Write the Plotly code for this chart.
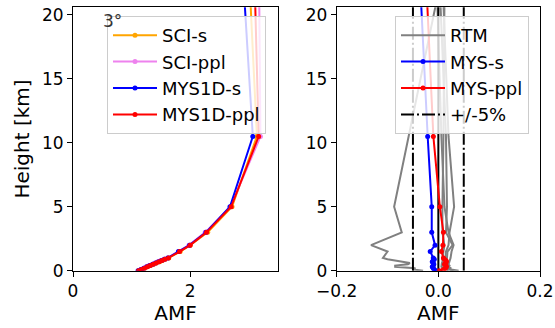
import plotly.graph_objects as go

# ---------------- data ----------------
heights = [0.0, 0.1, 0.2, 0.3, 0.4, 0.5, 0.6, 0.7, 0.8, 0.9, 1.0, 1.5, 2.0, 3.0, 5.0, 10.5, 21.0]

sci_s = [1.115, 1.17, 1.22, 1.275, 1.32, 1.37, 1.42, 1.48, 1.525, 1.57, 1.635, 1.83, 2.00, 2.30, 2.715, 3.14, 3.03]
sci_ppl = [1.118, 1.158, 1.203, 1.25, 1.30, 1.354, 1.40, 1.447, 1.498, 1.55, 1.614, 1.81, 1.98, 2.257, 2.69, 3.20, 3.18]
mys1d_s = [1.11, 1.16, 1.21, 1.26, 1.31, 1.36, 1.41, 1.46, 1.51, 1.56, 1.62, 1.80, 1.99, 2.27, 2.68, 3.07, 2.93]
mys1d_ppl = [1.12, 1.17, 1.22, 1.27, 1.32, 1.37, 1.42, 1.47, 1.52, 1.57, 1.63, 1.82, 2.00, 2.28, 2.70, 3.17, 3.11]

rtm_1 = [-0.03, -0.05, -0.045, -0.085, -0.085, -0.06, -0.056, -0.07, -0.09, -0.10, -0.109, -0.10, -0.1325, -0.072, -0.087, -0.058, -0.004]
rtm_2 = [0.02, 0.015, 0.012, 0.01, 0.01, 0.012, 0.012, 0.012, 0.013, 0.013, 0.014, 0.015, 0.02, 0.022, 0.031, 0.02, 0.010]
rtm_3 = [0.04, 0.025, 0.02, 0.018, 0.016, 0.015, 0.015, 0.016, 0.016, 0.016, 0.017, 0.018, 0.028, 0.015, 0.017, 0.015, 0.004]
rtm_4 = [0.005, 0.008, 0.01, 0.006, 0.006, 0.007, 0.007, 0.008, 0.008, 0.008, 0.008, 0.01, 0.012, 0.008, 0.008, 0.01, 0.012]
rtm_5 = [0.03, 0.02, 0.025, 0.02, 0.022, 0.02, 0.021, 0.022, 0.022, 0.023, 0.024, 0.026, 0.03, 0.02, 0.012, 0.006, -0.002]
rtm_all = [rtm_1, rtm_2, rtm_3, rtm_4, rtm_5]

mys_s = [-0.005, -0.008, -0.01, -0.012, -0.01, -0.009, -0.01, -0.012, -0.01, -0.008, -0.01, -0.016, -0.0065, -0.013, -0.013, -0.021, -0.034]
mys_ppl = [0.002, 0.01, 0.014, 0.016, 0.015, 0.012, 0.014, 0.016, 0.015, 0.012, 0.01, 0.006, 0.009, 0.01, 0.003, -0.0098, -0.022]

pct_limits = [-0.05, 0.05]
zero_ref = [0.0]
y_span = [0.0, 21.0]

left_xticks = [0, 2]
right_xticks = [-0.2, 0.0, 0.2]
yticks = [0, 5, 10, 15, 20]

# ---------------- figure ----------------
FONT = "DejaVu Sans"
FS = 17
LFS = 18
fig = go.Figure()

def add_left(x, name, color, gid):
    fig.add_trace(go.Scatter(
        x=x, y=heights, name=name, mode="lines+markers",
        line=dict(color=color, width=2), marker=dict(color=color, size=5),
        xaxis="x", yaxis="y", legend="legend", legendgroup=gid,
    ))

add_left(sci_s, "SCI-s", "#FFA500", "a")
add_left(sci_ppl, "SCI-ppl", "#EE82EE", "b")
add_left(mys1d_s, "MYS1D-s", "#0000FF", "c")
add_left(mys1d_ppl, "MYS1D-ppl", "#FF0000", "d")

for i, r in enumerate(rtm_all):
    fig.add_trace(go.Scatter(
        x=r, y=heights, name="RTM", mode="lines",
        line=dict(color="#808080", width=2),
        xaxis="x2", yaxis="y2", legend="legend2", legendgroup="e",
        showlegend=(i == 0),
    ))

fig.add_trace(go.Scatter(
    x=[zero_ref[0], zero_ref[0]], y=y_span, mode="lines",
    line=dict(color="black", width=2), xaxis="x2", yaxis="y2",
    showlegend=False, hoverinfo="skip",
))

fig.add_trace(go.Scatter(
    x=mys_s, y=heights, name="MYS-s", mode="lines+markers",
    line=dict(color="#0000FF", width=2), marker=dict(color="#0000FF", size=5),
    xaxis="x2", yaxis="y2", legend="legend2", legendgroup="f",
))
fig.add_trace(go.Scatter(
    x=mys_ppl, y=heights, name="MYS-ppl", mode="lines+markers",
    line=dict(color="#FF0000", width=2), marker=dict(color="#FF0000", size=5),
    xaxis="x2", yaxis="y2", legend="legend2", legendgroup="g",
))

px, py = [], []
for v in pct_limits:
    px += [v, v, None]
    py += [y_span[0], y_span[1], None]
fig.add_trace(go.Scatter(
    x=px, y=py, name="+/-5%", mode="lines",
    line=dict(color="black", width=2, dash="13px,3px,2px,3px"),
    xaxis="x2", yaxis="y2", legend="legend2", legendgroup="h",
))

W, H = 555, 328
def fx(p):
    return p / W
def fy(p):
    return 1 - p / H

axis_common = dict(
    showline=True, linecolor="black", linewidth=1, mirror=True,
    ticks="outside", ticklen=5, tickwidth=1, tickcolor="black",
    showgrid=False, zeroline=False, automargin=False,
    tickfont=dict(family=FONT, size=FS, color="black"),
)

legend_common = dict(
    xanchor="left", yanchor="top",
    bgcolor="rgba(255,255,255,0.8)", bordercolor="#cccccc", borderwidth=1,
    font=dict(family=FONT, size=LFS, color="black"),
    tracegroupgap=0, itemwidth=44,
)

fig.update_layout(
    width=W, height=H,
    margin=dict(l=0, r=0, t=0, b=0),
    paper_bgcolor="white", plot_bgcolor="white",
    font=dict(family=FONT, size=FS, color="black"),
    xaxis=dict(domain=[fx(73), fx(278)], range=[0, 3.5], tickvals=left_xticks,
               anchor="y", title=dict(text="AMF", standoff=4), **axis_common),
    yaxis=dict(domain=[fy(270.7), fy(7.3)], range=[0, 20.6], tickvals=yticks,
               anchor="x", title=dict(text="Height [km]", standoff=6), **axis_common),
    xaxis2=dict(domain=[fx(336.7), fx(540)], range=[-0.2, 0.2], tickvals=right_xticks,
                tickformat=".1f", anchor="y2", title=dict(text="AMF", standoff=4), **axis_common),
    yaxis2=dict(domain=[fy(270.7), fy(7.3)], range=[0, 20.6], tickvals=yticks,
                anchor="x2", **axis_common),
    legend=dict(x=fx(107), y=fy(16), **legend_common),
    legend2=dict(x=fx(395), y=fy(16), **legend_common),
    annotations=[dict(text="3°", x=fx(101), y=fy(21), xref="paper", yref="paper",
                      xanchor="left", yanchor="middle", showarrow=False,
                      font=dict(family=FONT, size=FS, color="#333333"))],
)

fig.write_html("out.html")
